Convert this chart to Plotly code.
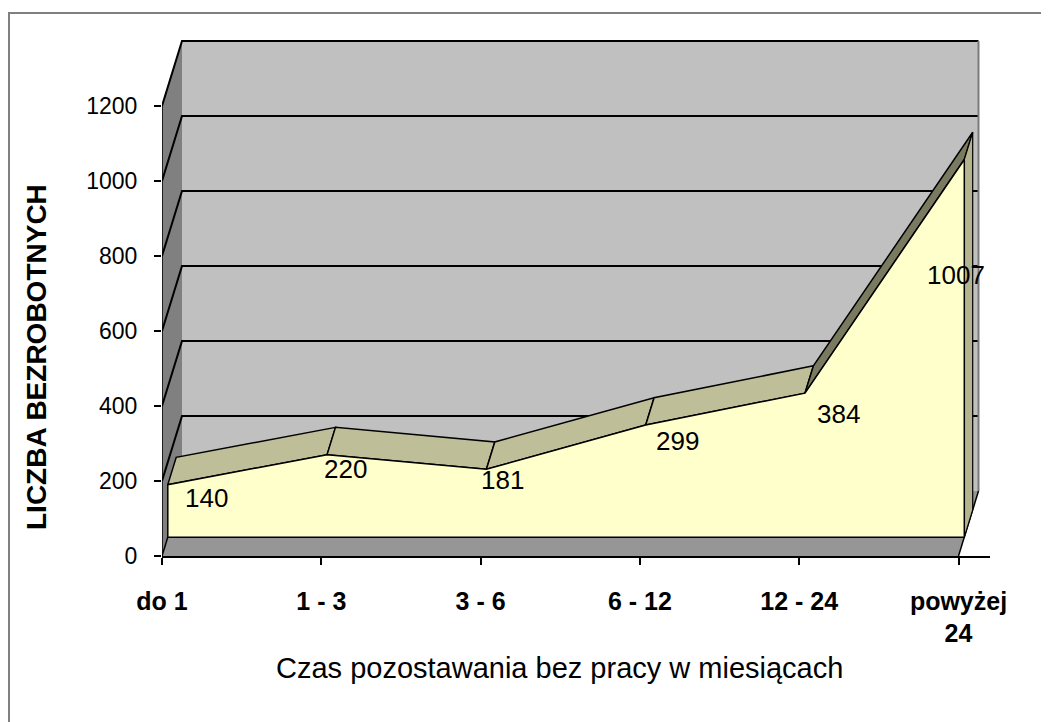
import math
import plotly.graph_objects as go

# ---------------- data ----------------
categories = ["do 1", "1 - 3", "3 - 6", "6 - 12", "12 - 24", "powyżej<br>24"]
values = [140, 220, 181, 299, 384, 1007]
y_ticks = [0, 200, 400, 600, 800, 1000, 1200]
x_title = "Czas pozostawania bez pracy w miesiącach"
y_title = "LICZBA BEZROBOTNYCH"

# ---------------- layout geometry ----------------
PAGE_MARGIN = 8          # default body margin of the html page
W, H = 1049 - PAGE_MARGIN, 722 - PAGE_MARGIN
L, T = 162 - PAGE_MARGIN, 30 - PAGE_MARGIN
plot_w, plot_h = 828, 526
R = W - L - plot_w
B = H - T - plot_h
PX_PER_CAT = 159.3
PX_PER_UNIT = 0.375
x_range = [0, plot_w / PX_PER_CAT]
y_range = [0, plot_h / PX_PER_UNIT]

# oblique projection for the 3-D look (depth in pixels)
DEPTH_PX = (20, 65)
ddx = DEPTH_PX[0] / PX_PER_CAT
ddy = DEPTH_PX[1] / PX_PER_UNIT
F_FRONT, F_BACK = 0.29, 0.71

n = len(values)
last = n - 1
top = max(y_ticks)

FONT = "Liberation Sans, Arial, sans-serif"


def proj(x, v, z):
    return x + z * ddx, v + z * ddy


def poly(points, fill, line_color=None, line_width=0):
    xs, ys = [], []
    for p in points:
        px, py = proj(*p)
        xs.append(px)
        ys.append(py)
    xs.append(xs[0])
    ys.append(ys[0])
    return go.Scatter(
        x=xs, y=ys, mode="lines", fill="toself", fillcolor=fill,
        line=dict(color=line_color or fill, width=line_width),
        hoverinfo="skip", showlegend=False,
    )


def lines(segments, color, width):
    xs, ys = [], []
    for seg in segments:
        for p in seg:
            px, py = proj(*p)
            xs.append(px)
            ys.append(py)
        xs.append(None)
        ys.append(None)
    return go.Scatter(x=xs, y=ys, mode="lines", line=dict(color=color, width=width),
                      hoverinfo="skip", showlegend=False)


traces = []
# walls & floor
traces.append(poly([(0, 0, 1), (last, 0, 1), (last, top, 1), (0, top, 1)], "#c0c0c0"))
traces.append(poly([(0, 0, 0), (0, top, 0), (0, top, 1), (0, 0, 1)], "#808080"))
traces.append(poly([(0, 0, 0), (last, 0, 0), (last, 0, 1), (0, 0, 1)], "#969696"))

# gridlines on side & back wall
grid = [[(0, v, 0), (0, v, 1), (last, v, 1)] for v in y_ticks if v > 0]
traces.append(lines(grid, "#000000", 2))
traces.append(lines([[(last, 0, 1), (last, top, 1)]], "#7a7a7a", 2))
traces.append(lines([[(last, 0, 0), (last, 0, 1)], [(0, 0, 0), (0, 0, 1)]], "#000000", 1.5))


def shade(v0, v1):
    # darker for steeper facets (pixel slope)
    ang = abs(math.degrees(math.atan2((v1 - v0) * PX_PER_UNIT, PX_PER_CAT)))
    t = min(max((ang - 30) / 25, 0), 1)
    light = (190, 190, 152)
    dark = (122, 122, 96)
    c = [round(a + (b - a) * t) for a, b in zip(light, dark)]
    return "rgb(%d,%d,%d)" % tuple(c)


# area top facets
for i in range(n - 1):
    traces.append(poly([(i, values[i], F_FRONT), (i + 1, values[i + 1], F_FRONT),
                        (i + 1, values[i + 1], F_BACK), (i, values[i], F_BACK)],
                       shade(values[i], values[i + 1]), "#000000", 1.5))
# right end face
traces.append(poly([(last, 0, F_FRONT), (last, 0, F_BACK), (last, values[-1], F_BACK),
                    (last, values[-1], F_FRONT)], "#b4b48e", "#000000", 1.2))
# front face
front = [(0, 0, F_FRONT)] + [(i, v, F_FRONT) for i, v in enumerate(values)] + [(last, 0, F_FRONT)]
traces.append(poly(front, "#ffffcc", "#000000", 1.5))

fig = go.Figure(traces)

# data labels (pixel offsets from the value point on the axis plane)
label_shift = [(44, 6), (24, 5), (22, 8), (38, 3), (39, -2), (-3, -97)]
for i, v in enumerate(values):
    fig.add_annotation(x=i, y=v, xref="x", yref="y", text=str(v), showarrow=False,
                       xanchor="center", yanchor="middle",
                       xshift=label_shift[i][0], yshift=label_shift[i][1],
                       font=dict(family=FONT, size=26, color="#000000"))


def paper_x(px):
    # px given in page (screenshot) pixels
    return (px - PAGE_MARGIN - L) / plot_w


def paper_y(py):
    return (T + plot_h - (py - PAGE_MARGIN)) / plot_h


fig.add_annotation(x=paper_x(559), y=paper_y(668), xref="paper", yref="paper",
                   xanchor="center", yanchor="middle",
                   text=x_title, showarrow=False,
                   font=dict(family=FONT, size=29, color="#000000"))
fig.add_annotation(x=paper_x(37), y=paper_y(357), xref="paper", yref="paper",
                   xanchor="center", yanchor="middle",
                   text=y_title, showarrow=False, textangle=-90,
                   font=dict(family=FONT, size=28, color="#000000", weight="bold"))

# outer border (top and left edges visible)
fig.add_shape(type="path", xref="paper", yref="paper",
              path="M %f %f L %f %f L %f %f" % (paper_x(9), paper_y(740), paper_x(9), paper_y(13),
                                                 paper_x(1070), paper_y(13)),
              line=dict(color="#808080", width=2))

fig.update_layout(
    width=W, height=H,
    margin=dict(l=L, r=R, t=T, b=B, autoexpand=False),
    paper_bgcolor="white", plot_bgcolor="white",
    showlegend=False,
)
fig.update_xaxes(range=x_range, tickvals=list(range(n)), ticktext=categories,
                 showgrid=False, zeroline=False, showline=True, linecolor="#000000", linewidth=1.5,
                 ticks="outside", ticklen=7, tickcolor="#000000", tickwidth=1.5,
                 ticklabelstandoff=15,
                 tickfont=dict(family=FONT, size=25, color="#000000", weight="bold"))
fig.update_yaxes(range=y_range, tickvals=y_ticks, ticktext=[str(v) for v in y_ticks],
                 showgrid=False, zeroline=False, showline=False,
                 ticks="outside", ticklen=7, tickcolor="#000000", tickwidth=1.5,
                 ticklabelstandoff=12,
                 tickfont=dict(family=FONT, size=23, color="#000000"))
fig.add_shape(type="line", xref="x", yref="y", x0=0, x1=0, y0=0, y1=top,
              line=dict(color="#000000", width=1.5))

fig.write_html("out.html")
